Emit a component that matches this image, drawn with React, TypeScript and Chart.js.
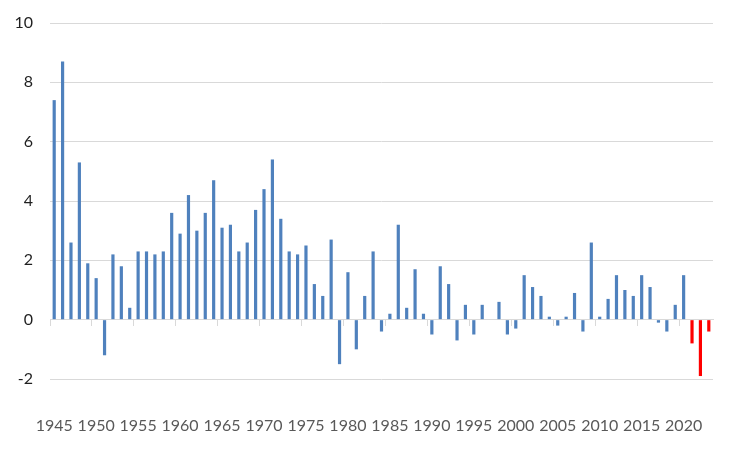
import React, { useEffect, useRef } from "react";
import { Chart, registerables } from "chart.js";

Chart.register(...registerables);

const years: string[] = [
  "1945", "1946", "1947", "1948", "1949", "1950", "1951", "1952", "1953", "1954",
  "1955", "1956", "1957", "1958", "1959", "1960", "1961", "1962", "1963", "1964",
  "1965", "1966", "1967", "1968", "1969", "1970", "1971", "1972", "1973", "1974",
  "1975", "1976", "1977", "1978", "1979", "1980", "1981", "1982", "1983", "1984",
  "1985", "1986", "1987", "1988", "1989", "1990", "1991", "1992", "1993", "1994",
  "1995", "1996", "1997", "1998", "1999", "2000", "2001", "2002", "2003", "2004",
  "2005", "2006", "2007", "2008", "2009", "2010", "2011", "2012", "2013", "2014",
  "2015", "2016", "2017", "2018", "2019", "2020", "2021", "2022", "2023",
];

const values: number[] = [
  7.4, 8.7, 2.6, 5.3, 1.9, 1.4, -1.2, 2.2, 1.8, 0.4,
  2.3, 2.3, 2.2, 2.3, 3.6, 2.9, 4.2, 3.0, 3.6, 4.7,
  3.1, 3.2, 2.3, 2.6, 3.7, 4.4, 5.4, 3.4, 2.3, 2.2,
  2.5, 1.2, 0.8, 2.7, -1.5, 1.6, -1.0, 0.8, 2.3, -0.4,
  0.2, 3.2, 0.4, 1.7, 0.2, -0.5, 1.8, 1.2, -0.7, 0.5,
  -0.5, 0.5, 0.0, 0.6, -0.5, -0.3, 1.5, 1.1, 0.8, 0.1,
  -0.2, 0.1, 0.9, -0.4, 2.6, 0.1, 0.7, 1.5, 1.0, 0.8,
  1.5, 1.1, -0.1, -0.4, 0.5, 1.5, -0.8, -1.9, -0.4,
];

const highlightYears: string[] = ["2021", "2022", "2023"];
const yTicks: number[] = [-2, 0, 2, 4, 6, 8, 10];
const labelEvery = 5;

const BLUE = "#4f81bd";
const RED = "#ff0000";
const GRID = "#d9d9d9";
const FONT = "Lato, 'Liberation Sans', sans-serif";

export default function App() {
  const ref = useRef<HTMLCanvasElement>(null);

  useEffect(() => {
    document.body.style.margin = "0";
    const colors = years.map((y) => (highlightYears.includes(y) ? RED : BLUE));
    const chart = new Chart(ref.current as HTMLCanvasElement, {
      type: "bar",
      data: {
        labels: years,
        datasets: [
          {
            data: values,
            backgroundColor: colors,
            barPercentage: 0.38,
            categoryPercentage: 1,
          },
        ],
      },
      options: {
        responsive: false,
        animation: false,
        layout: { padding: { top: 23, right: 37, bottom: 15, left: 0 } },
        plugins: { legend: { display: false }, tooltip: { enabled: false } },
        scales: {
          x: {
            type: "category",
            position: { y: 0 } as any,
            offset: true,
            grid: {
              offset: true,
              drawOnChartArea: false,
              drawTicks: true,
              tickLength: 6,
              lineWidth: 1,
              color: (c: any) => (c.index % labelEvery === 0 ? GRID : "rgba(0,0,0,0)"),
            },
            border: { display: true, color: GRID },
            ticks: { display: false },
            afterFit: (s: any) => {
              s.height = 0;
              s.paddingLeft = s.paddingRight = s.paddingTop = s.paddingBottom = 0;
            },
          },
          x2: {
            type: "category",
            position: "bottom",
            offset: true,
            grid: { display: false, drawTicks: false },
            border: { display: false },
            ticks: {
              autoSkip: false,
              maxRotation: 0,
              minRotation: 0,
              padding: 37,
              color: "#595959",
              font: { family: FONT, size: 16 },
              callback: (_v: any, i: number) => (i % labelEvery === 0 ? years[i] : ""),
            },
            afterFit: (s: any) => {
              s.height = 56;
              s.paddingLeft = s.paddingRight = s.paddingTop = s.paddingBottom = 0;
            },
          },
          y: {
            min: yTicks[0],
            max: yTicks[yTicks.length - 1],
            afterBuildTicks: (s: any) => {
              s.ticks = yTicks.map((v) => ({ value: v }));
            },
            ticks: {
              padding: 17,
              color: "#1f1f1f",
              font: { family: FONT, size: 16 },
            },
            grid: { color: GRID, drawTicks: false },
            border: { display: false },
            afterFit: (s: any) => {
              s.width = 50;
              s.paddingLeft = s.paddingRight = s.paddingTop = s.paddingBottom = 0;
            },
          },
        },
      },
    });
    return () => chart.destroy();
  }, []);

  return (
    <div style={{ width: 750, height: 450, background: "#ffffff" }}>
      <canvas ref={ref} width={750} height={450} style={{ display: "block" }} />
    </div>
  );
}
